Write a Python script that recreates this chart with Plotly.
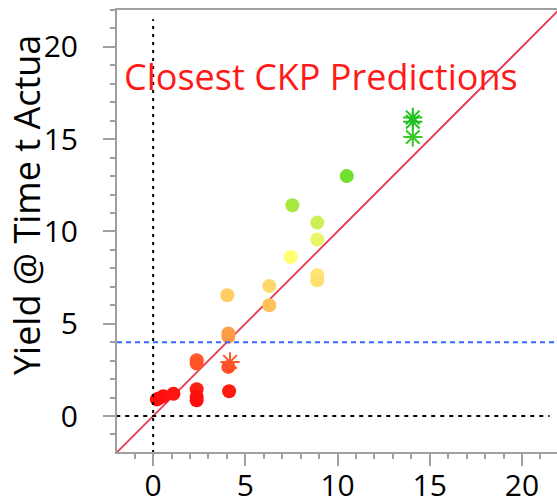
import plotly.graph_objects as go

# ---- data ----
circle_x = [0.28, 0.55, 1.10, 0.20, 2.36, 2.36, 2.36, 4.12, 2.36, 2.36, 4.08, 4.08, 4.08,
            4.02, 6.30, 6.30, 7.46, 7.55, 8.90, 8.90, 8.90, 8.90, 10.5]
circle_y = [0.94, 1.07, 1.21, 0.90, 1.45, 1.05, 0.85, 1.34, 3.02, 2.84, 2.66, 4.47, 4.30,
            6.54, 6.00, 7.05, 8.62, 11.42, 10.48, 9.56, 7.63, 7.35, 13.0]
star_x = [4.17, 14.08, 14.08, 14.08]
star_y = [2.93, 16.18, 15.95, 15.12]

x_range = [-1.96, 21.9]
y_range = [-1.95, 22.0]
tick_vals = [0, 5, 10, 15, 20]
ref_x0 = 0
ref_y0 = 0
threshold_y = 4
ref_extent = [-2, 21.5]
diag_ends = [-2, 22]
annotation_text = "Closest CKP Predictions"
y_title = "Yield @ Time t Actua"

FONT = "Open Sans, Noto Sans, sans-serif"
cscale = [
    [0.0, "#ff0d0d"], [0.133, "#ff5a2a"], [0.227, "#ffa048"], [0.367, "#ffcc60"],
    [0.427, "#ffe070"], [0.507, "#ffff70"], [0.573, "#e6f566"], [0.633, "#ccf055"],
    [0.693, "#a8e840"], [0.8, "#70e030"], [1.0, "#20c020"],
]
cmin, cmax = 1, 16

fig = go.Figure()
fig.add_trace(go.Scatter(x=diag_ends, y=diag_ends, mode="lines",
                         line=dict(color="#e8344c", width=1.8), hoverinfo="skip"))
fig.add_trace(go.Scatter(x=circle_x, y=circle_y, mode="markers",
                         marker=dict(size=14, color=circle_y, colorscale=cscale,
                                     cmin=cmin, cmax=cmax, line=dict(width=0))))
fig.add_trace(go.Scatter(x=star_x, y=star_y, mode="markers",
                         marker=dict(size=16, symbol="asterisk-open", color=star_y,
                                     colorscale=cscale, cmin=cmin, cmax=cmax,
                                     line=dict(width=2))))

fig.add_shape(type="line", x0=ref_x0, x1=ref_x0, y0=ref_extent[0], y1=ref_extent[1],
              line=dict(color="black", width=2, dash="3px,5px"))
fig.add_shape(type="line", y0=ref_y0, y1=ref_y0, x0=ref_extent[0], x1=ref_extent[1],
              line=dict(color="black", width=2, dash="4px,5px"))
fig.add_shape(type="line", y0=threshold_y, y1=threshold_y, x0=0, x1=1, xref="paper",
              line=dict(color="#3366ff", width=2, dash="5px,4px"))

fig.add_annotation(text=annotation_text, xref="paper", yref="paper", x=0.012, y=0.85,
                   xanchor="left", yanchor="middle", showarrow=False,
                   font=dict(family=FONT, size=36, color="#ff1a1a"))
fig.add_annotation(text=y_title, xref="paper", yref="paper", x=-0.207, y=0.5585,
                   xanchor="center", yanchor="middle", showarrow=False, textangle=-90,
                   font=dict(family=FONT, size=36, color="black"))

axis_common = dict(showgrid=False, zeroline=False, showline=True, linecolor="#a0a0a0",
                   linewidth=2, ticks="outside", ticklen=12, tickwidth=2, tickcolor="#a0a0a0",
                   tickvals=tick_vals, tickfont=dict(family=FONT, size=30, color="black"),
                   automargin=False,
                   minor=dict(dtick=1, ticks="outside", ticklen=5, tickwidth=1.5,
                              tickcolor="#a0a0a0"))
fig.update_xaxes(range=x_range, mirror=True, ticklabelstandoff=-6, **axis_common)
fig.update_yaxes(range=y_range, ticklabelstandoff=19, **axis_common)

fig.update_layout(width=557, height=504, margin=dict(l=117, r=0, t=10, b=52),
                  plot_bgcolor="white", paper_bgcolor="white", showlegend=False)
fig.write_html("out.html")
